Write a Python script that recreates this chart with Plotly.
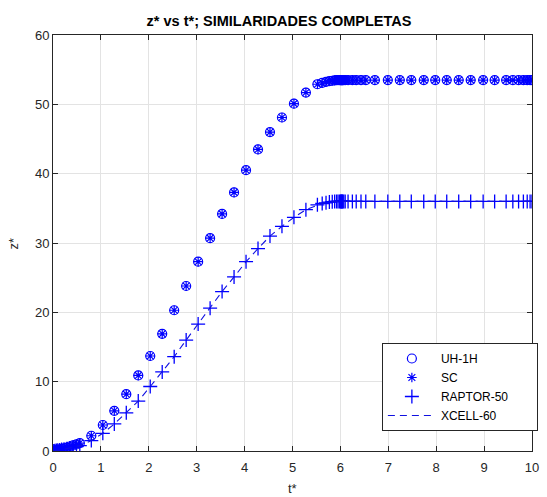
import plotly.graph_objects as go

# ---- data ----
t = [0, 0.02, 0.04, 0.07, 0.10, 0.14, 0.18, 0.23, 0.29, 0.35, 0.42, 0.49, 0.56,
     0.80, 1.04, 1.28, 1.53, 1.78, 2.03, 2.28, 2.53, 2.78, 3.03, 3.28, 3.53,
     3.78, 4.03, 4.28, 4.53, 4.78, 5.03, 5.28, 5.52,
     5.62, 5.70, 5.77, 5.83, 5.88, 5.92, 5.95, 5.98, 6.00, 6.01, 6.02, 6.03,
     6.04, 6.05, 6.07, 6.10, 6.16, 6.25, 6.33, 6.43, 6.53, 6.72,
     6.99, 7.24, 7.48, 7.74, 7.98, 8.22, 8.47, 8.72, 8.98, 9.22,
     9.46, 9.60, 9.72, 9.82, 9.90, 9.96, 10.0]

z_uh1h = [0.0, 0.02, 0.05, 0.10, 0.15, 0.22, 0.30, 0.40, 0.50, 0.65, 0.80, 0.95, 1.15,
          2.2, 3.75, 5.8, 8.2, 10.9, 13.7, 16.9, 20.3, 23.8, 27.3, 30.7, 34.2,
          37.3, 40.5, 43.5, 46.0, 48.1, 50.1, 51.7, 52.9,
          53.1, 53.25, 53.35, 53.4, 53.45, 53.5, 53.5, 53.5, 53.5, 53.5, 53.5, 53.5,
          53.5, 53.5, 53.5, 53.5, 53.5, 53.5, 53.5, 53.5, 53.5, 53.5,
          53.5, 53.5, 53.5, 53.5, 53.5, 53.5, 53.5, 53.5, 53.5, 53.5,
          53.5, 53.5, 53.5, 53.5, 53.5, 53.5, 53.5]

z_sc = [0.0, 0.02, 0.05, 0.10, 0.15, 0.22, 0.30, 0.40, 0.50, 0.65, 0.80, 0.95, 1.15,
        2.2, 3.75, 5.8, 8.2, 10.9, 13.7, 16.9, 20.3, 23.8, 27.3, 30.7, 34.2,
        37.3, 40.5, 43.5, 46.0, 48.1, 50.1, 51.7, 52.9,
        53.1, 53.25, 53.35, 53.4, 53.45, 53.5, 53.5, 53.5, 53.5, 53.5, 53.5, 53.5,
        53.5, 53.5, 53.5, 53.5, 53.5, 53.5, 53.5, 53.5, 53.5, 53.5,
        53.5, 53.5, 53.5, 53.5, 53.5, 53.5, 53.5, 53.5, 53.5, 53.5,
        53.5, 53.5, 53.5, 53.5, 53.5, 53.5, 53.5]

z_raptor = [0.0, 0.01, 0.03, 0.07, 0.10, 0.15, 0.20, 0.27, 0.34, 0.44, 0.54, 0.64, 0.77,
            1.5, 2.55, 3.9, 5.5, 7.2, 9.3, 11.4, 13.6, 16.0, 18.3, 20.6, 23.0,
            25.1, 27.3, 29.2, 31.0, 32.4, 33.7, 34.8, 35.5,
            35.7, 35.8, 35.9, 35.95, 36.0, 36.0, 36.0, 36.0, 36.0, 36.0, 36.0, 36.0,
            36.0, 36.0, 36.0, 36.0, 36.0, 36.0, 36.0, 36.0, 36.0, 36.0,
            36.0, 36.0, 36.0, 36.0, 36.0, 36.0, 36.0, 36.0, 36.0, 36.0,
            36.0, 36.0, 36.0, 36.0, 36.0, 36.0, 36.0]

z_xcell = [0.0, 0.01, 0.03, 0.07, 0.10, 0.15, 0.20, 0.27, 0.34, 0.44, 0.54, 0.64, 0.77,
           1.5, 2.55, 3.9, 5.5, 7.2, 9.3, 11.4, 13.6, 16.0, 18.3, 20.6, 23.0,
           25.1, 27.3, 29.2, 31.0, 32.4, 33.7, 34.8, 35.5,
           35.7, 35.8, 35.9, 35.95, 36.0, 36.0, 36.0, 36.0, 36.0, 36.0, 36.0, 36.0,
           36.0, 36.0, 36.0, 36.0, 36.0, 36.0, 36.0, 36.0, 36.0, 36.0,
           36.0, 36.0, 36.0, 36.0, 36.0, 36.0, 36.0, 36.0, 36.0, 36.0,
           36.0, 36.0, 36.0, 36.0, 36.0, 36.0, 36.0]

names = ["UH-1H", "SC", "RAPTOR-50", "XCELL-60"]
x_ticks = [0, 1, 2, 3, 4, 5, 6, 7, 8, 9, 10]
y_ticks = [0, 10, 20, 30, 40, 50, 60]

BLUE = "#0000ff"
AXC = "#262626"
FONT = "Liberation Sans, Arial, sans-serif"
PAD = "\u00a0" * 7  # trailing padding to widen legend box like the reference

fig = go.Figure()
fig.add_trace(go.Scatter(x=t, y=z_uh1h, mode="markers", name=names[0],
                         marker=dict(symbol="circle-open", size=9, color=BLUE,
                                     line=dict(width=1.2, color=BLUE))))
fig.add_trace(go.Scatter(x=t, y=z_sc, mode="markers", name=names[1],
                         marker=dict(symbol="asterisk-open", size=8, color=BLUE,
                                     line=dict(width=1.2, color=BLUE))))
fig.add_trace(go.Scatter(x=t, y=z_raptor, mode="markers", name=names[2] + PAD,
                         marker=dict(symbol="cross-thin-open", size=10, color=BLUE,
                                     line=dict(width=1.3, color=BLUE))))
fig.add_trace(go.Scatter(x=t, y=z_xcell, mode="lines", name=names[3],
                         line=dict(color="#1010e0", width=1.1, dash="7px,5px")))

axis_common = dict(showline=True, linecolor=AXC, linewidth=1, mirror="ticks",
                   ticks="inside", ticklen=5, tickcolor=AXC, showgrid=True,
                   gridcolor="#e3e3e3", gridwidth=1, zeroline=False,
                   tickfont=dict(family=FONT, size=13, color=AXC))

fig.update_layout(
    width=547, height=497,
    margin=dict(l=53, r=9, t=35, b=46),
    paper_bgcolor="white", plot_bgcolor="white",
    title=dict(text="<b>z* vs t*; SIMILARIDADES COMPLETAS</b>",
               font=dict(family=FONT, size=14.5, color="#000000"),
               xref="container", x=279 / 547, xanchor="center",
               yref="container", y=1 - 21 / 497, yanchor="middle"),
    xaxis=dict(range=[0, 10], tickvals=x_ticks, ticklabelstandoff=4, **axis_common),
    yaxis=dict(range=[0, 60], tickvals=y_ticks, **axis_common),
    legend=dict(x=(386 - 53) / 485, y=(451 - 343) / 416, xanchor="left", yanchor="top",
                bgcolor="white", bordercolor=AXC, borderwidth=1,
                font=dict(family=FONT, size=12, color="#000000"),
                itemwidth=48, tracegroupgap=0),
    showlegend=True,
    annotations=[
        dict(text="t*", xref="paper", yref="paper", x=0.5, y=-(489 - 451) / 416,
             showarrow=False, xanchor="center", yanchor="middle",
             font=dict(family=FONT, size=13, color=AXC)),
        dict(text="z*", xref="paper", yref="paper", x=-(53 - 13) / 485, y=0.5,
             showarrow=False, xanchor="center", yanchor="middle", textangle=-90,
             font=dict(family=FONT, size=13, color=AXC)),
    ],
)

fig.write_html("out.html")
